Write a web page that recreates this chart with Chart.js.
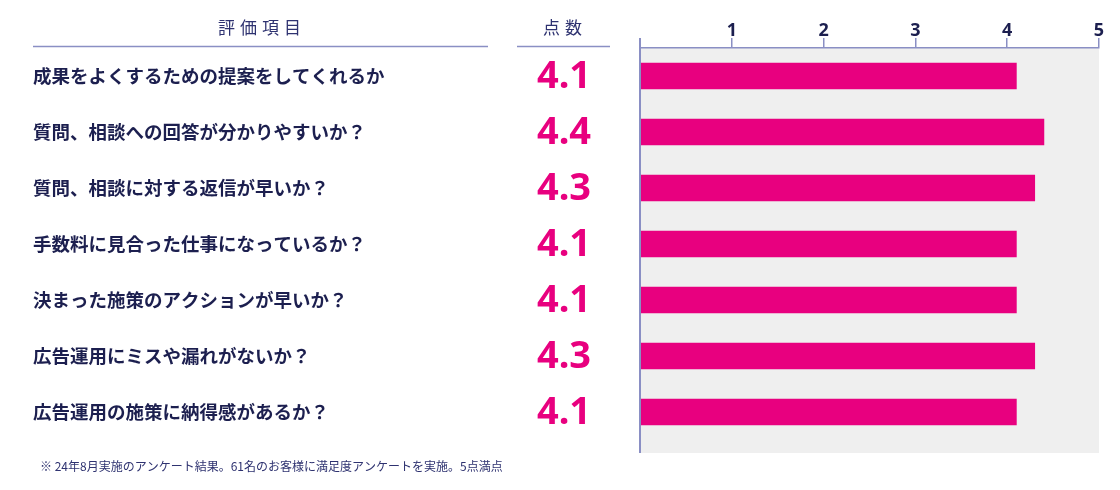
<!DOCTYPE html>
<html lang="ja">
<head>
<meta charset="utf-8">
<script src="https://cdn.jsdelivr.net/npm/chart.js@4"></script>
<style>
  html, body { margin: 0; padding: 0; background: #fff; }
  #wrap { position: relative; width: 1120px; height: 490px; }
</style>
</head>
<body>
<div id="wrap"><canvas id="scoreChart" width="1120" height="490"></canvas></div>
<script>
// 評価データ
var items = [
  '成果をよくするための提案をしてくれるか',
  '質問、相談への回答が分かりやすいか？',
  '質問、相談に対する返信が早いか？',
  '手数料に見合った仕事になっているか？',
  '決まった施策のアクションが早いか？',
  '広告運用にミスや漏れがないか？',
  '広告運用の施策に納得感があるか？'
];
var scores = [4.1, 4.4, 4.3, 4.1, 4.1, 4.3, 4.1];
var axisTicks = ['', '1', '2', '3', '4', '5'];

var headItem = '評価項目';
var headScore = '点数';
var footnote = '※ 24年8月実施のアンケート結果。61名のお客様に満足度アンケートを実施。5点満点';

var NAVY = '#1c1f4f';
var PINK = '#e8007f';
var LINE = '#8a8fc4';
var JP = '"Noto Sans CJK JP", "Noto Sans", sans-serif';

// gray plot background + left axis line + headers
var decor = {
  id: 'decor',
  beforeDraw: function (chart) {
    var c = chart.ctx, a = chart.chartArea;
    c.save();
    c.fillStyle = '#efefef';
    c.fillRect(a.left, a.top, a.right - a.left, a.bottom - a.top + 13);
    c.restore();
  },
  afterDraw: function (chart) {
    var c = chart.ctx, a = chart.chartArea;
    var ys = chart.scales.y;
    c.save();
    // left axis line
    c.strokeStyle = LINE;
    c.lineWidth = 2;
    c.beginPath();
    c.moveTo(a.left, a.top - 10);
    c.lineTo(a.left, a.bottom + 13);
    c.stroke();

    // column headers
    c.fillStyle = '#2e3270';
    c.font = '17px ' + JP;
    c.textAlign = 'center';
    c.textBaseline = 'middle';
    c.letterSpacing = '5px';
    c.fillText(headItem, 262, 28);
    c.fillText(headScore, 565, 28);
    c.letterSpacing = '0px';
    c.lineWidth = 1.5;
    c.beginPath();
    c.moveTo(33, 46.5); c.lineTo(488, 46.5);
    c.moveTo(517, 46.5); c.lineTo(610, 46.5);
    c.stroke();

    // score values
    c.fillStyle = PINK;
    c.font = 'bold 38px "Noto Sans", sans-serif';
    scores.forEach(function (v, i) {
      c.fillText(v.toFixed(1), 564, ys.getPixelForValue(i) + 1);
    });

    // footnote
    c.fillStyle = '#2e3270';
    c.font = '12px ' + JP;
    c.textAlign = 'left';
    c.fillText(footnote, 40, 466);
    c.restore();
  }
};

new Chart(document.getElementById('scoreChart'), {
  type: 'bar',
  data: {
    labels: items,
    datasets: [{
      data: scores,
      backgroundColor: PINK,
      borderWidth: 0,
      barThickness: 26
    }]
  },
  options: {
    indexAxis: 'y',
    responsive: false,
    animation: false,
    layout: { padding: { left: 33, right: 21, top: 0, bottom: 50 } },
    plugins: {
      legend: { display: false },
      tooltip: { enabled: false }
    },
    scales: {
      x: {
        position: 'top',
        min: 0,
        max: 5,
        afterFit: function (s) { s.height = 48; },
        ticks: {
          stepSize: 1,
          padding: -4,
          color: NAVY,
          font: { family: '"Noto Sans", sans-serif', size: 18, weight: 'bold' },
          callback: function (v) { return axisTicks[v]; }
        },
        grid: { drawOnChartArea: false, tickLength: 10, color: LINE, lineWidth: 1.5 },
        border: { display: true, color: LINE, width: 1.5 }
      },
      y: {
        afterFit: function (s) { s.width = 607; },
        ticks: {
          crossAlign: 'far',
          color: NAVY,
          font: { family: JP, size: 18.5, weight: 'bold' }
        },
        grid: { display: false },
        border: { display: false }
      }
    }
  },
  plugins: [decor]
});
</script>
</body>
</html>
